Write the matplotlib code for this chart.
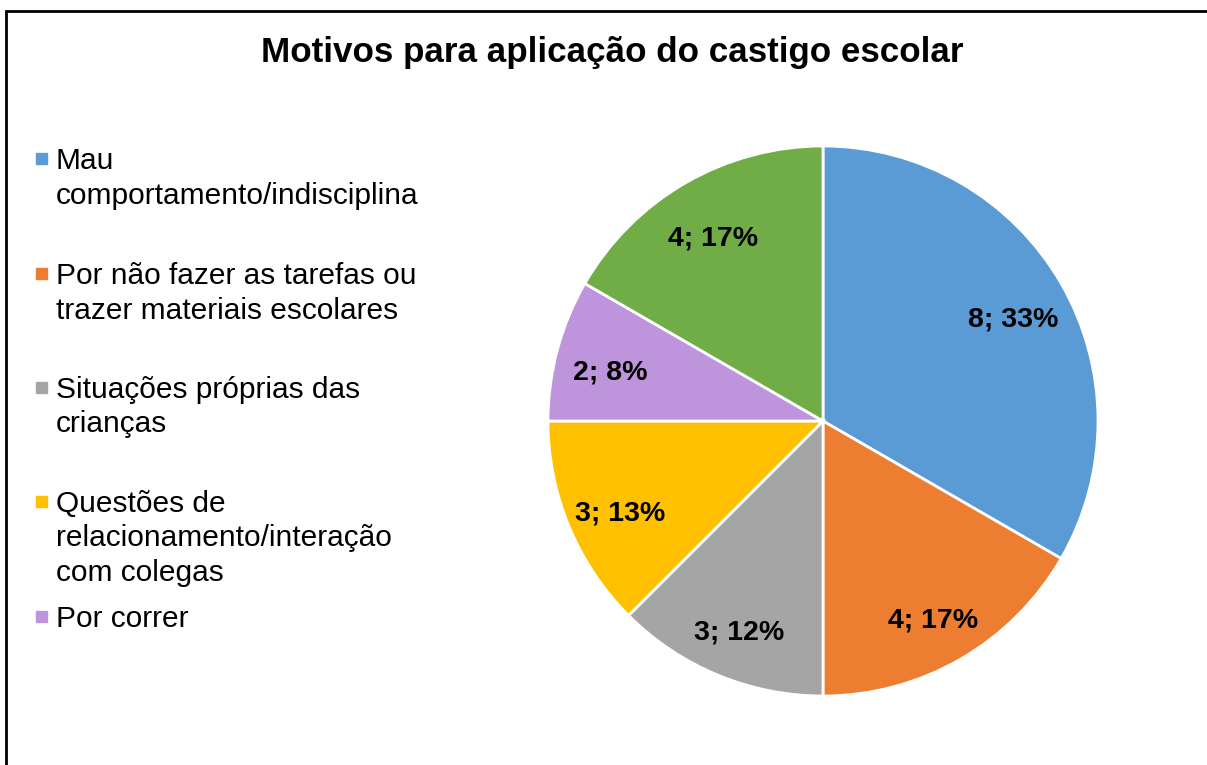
import matplotlib.pyplot as plt
import numpy as np
from matplotlib.patches import Rectangle

plt.rcParams['font.family'] = ['Liberation Sans', 'DejaVu Sans']

title = 'Motivos para aplicação do castigo escolar'
labels = ['Mau\ncomportamento/indisciplina',
          'Por não fazer as tarefas ou\ntrazer materiais escolares',
          'Situações próprias das\ncrianças',
          'Questões de\nrelacionamento/interação\ncom colegas',
          'Por correr']
counts = [8, 4, 3, 3, 2, 4]
pcts = ['33%', '17%', '12%', '13%', '8%', '17%']
colors = ['#5B9BD5', '#ED7D31', '#A5A5A5', '#FFC000', '#BE95DC', '#70AD47']

W, H = 1207, 765
fig = plt.figure(figsize=(W/100, H/100), dpi=100)

# chart border (the screenshot cuts it on the right and bottom)
fig.patches.append(Rectangle((6/W, -0.1), 1.2, (H - 11)/H + 0.1,
                             transform=fig.transFigure, fill=False,
                             edgecolor='black', lw=2))

fig.text(612/W, 1 - 62/H, title, ha='center', va='baseline',
         fontsize=25.2, fontweight='bold')

# pie: center (823, 421) px, radius 275 px
cx, cy, r = 823, 421, 275
ax = fig.add_axes([(cx - r)/W, (H - cy - r)/H, 2*r/W, 2*r/H])
wedges, _ = ax.pie(counts, colors=colors, startangle=90, counterclock=False,
                   radius=1, wedgeprops=dict(edgecolor='white', linewidth=2))
ax.set_xlim(-1, 1)
ax.set_ylim(-1, 1)
ax.set_aspect('auto')
ax.axis('off')

for w, n, p in zip(wedges, counts, pcts):
    mid = np.deg2rad((w.theta1 + w.theta2) / 2)
    ax.text(0.8*np.cos(mid), 0.8*np.sin(mid) - 0.02, f'{n}; {p}',
            ha='center', va='center_baseline', fontsize=20.5, fontweight='bold')

# legend drawn by hand to keep Excel-like layout (baseline of first line, px)
base = [169, 284, 398, 512, 627]
step = 34.5
for lab, y, c in zip(labels, base, colors):
    fig.patches.append(Rectangle((36/W, 1 - (y - 5)/H), 11/W, 11/H,
                                 transform=fig.transFigure, color=c))
    for k, line in enumerate(lab.split('\n')):
        fig.text(56/W, 1 - (y + k*step)/H, line, ha='left', va='baseline',
                 fontsize=21.5)

plt.savefig('out.png', dpi=100)
